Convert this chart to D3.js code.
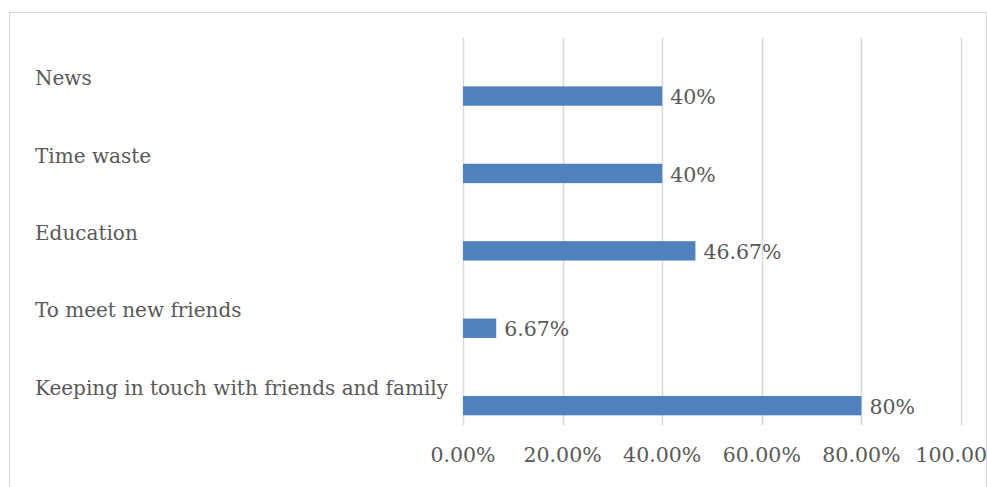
<!DOCTYPE html>
<html lang="en">
<head>
    <script src="https://cdn.jsdelivr.net/npm/d3@7"></script>
    <style>
        body { margin: 0; background: #fff; }
        text { font-family: "DejaVu Serif", serif; fill: #595959; }
    </style>
</head>
<body>
<div id="chart"></div>
<script>
    // values, top to bottom as drawn
    var categories = ["News", "Time waste", "Education", "To meet new friends", "Keeping in touch with friends and family"]
    var values = [0.40, 0.40, 0.4667, 0.0667, 0.80]
    var valueLabels = ["40%", "40%", "46.67%", "6.67%", "80%"]
    var ticks = [0, 0.2, 0.4, 0.6, 0.8, 1.0]

    var width = 987
        height = 487

    var svg = d3.select("#chart")
        .append("svg")
            .attr("width", width)
            .attr("height", height)

    // chart frame
    svg.append("rect")
        .attr("x", 9.5)
        .attr("y", 12.5)
        .attr("width", 977)
        .attr("height", 490)
        .attr("fill", "none")
        .attr("stroke", "#d9d9d9")

    var x = d3.scaleLinear()
        .domain([0, 1])
        .range([463, 961])

    var y = d3.scaleBand()
        .domain(categories)
        .range([38, 425])

    var step = y.step()

    // gridlines
    svg.selectAll(".grid")
        .data(ticks)
        .enter()
        .append("line")
            .attr("x1", function(d) { return Math.round(x(d)) + 0.5 })
            .attr("x2", function(d) { return Math.round(x(d)) + 0.5 })
            .attr("y1", 38)
            .attr("y2", 425)
            .attr("stroke", "#d9d9d9")
            .attr("stroke-width", 1.5)

    // tick labels
    svg.selectAll(".tick")
        .data(ticks)
        .enter()
        .append("text")
            .attr("x", function(d) { return x(d) })
            .attr("y", 462)
            .attr("text-anchor", "middle")
            .style("font-size", "20.5px")
            .text(function(d) { return d3.format(".2%")(d) })

    // bars sit in the lower half of each band
    svg.selectAll(".bar")
        .data(values)
        .enter()
        .append("rect")
            .attr("x", x(0))
            .attr("y", function(d, i) { return y(categories[i]) + step * 0.625 })
            .attr("width", function(d) { return x(d) - x(0) })
            .attr("height", step * 0.25)
            .attr("fill", "#4f81bd")

    // value labels
    svg.selectAll(".val")
        .data(values)
        .enter()
        .append("text")
            .attr("x", function(d) { return x(d) + 8 })
            .attr("y", function(d, i) { return y(categories[i]) + step * 0.75 })
            .attr("dy", "0.4em")
            .style("font-size", "20.5px")
            .text(function(d, i) { return valueLabels[i] })

    // category labels
    svg.selectAll(".cat")
        .data(categories)
        .enter()
        .append("text")
            .attr("x", 35)
            .attr("y", function(d) { return y(d) + step * 0.5 })
            .attr("dy", "0.42em")
            .style("font-size", "20px")
            .text(function(d) { return d })
</script>
</body>
</html>
